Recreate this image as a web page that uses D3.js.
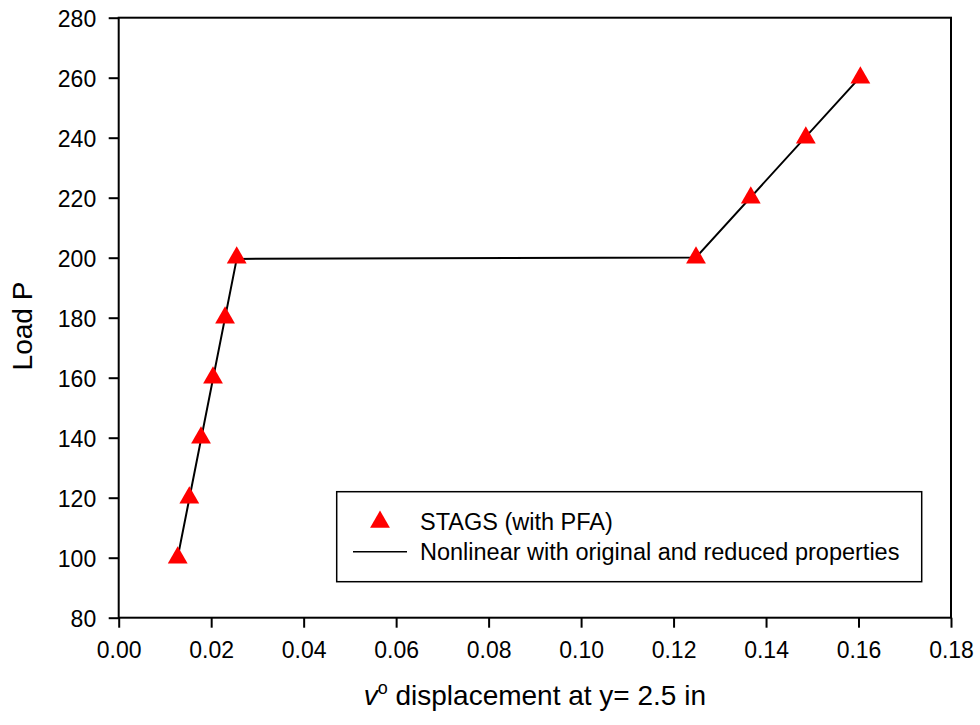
<!DOCTYPE html>
<html>
<head>
<meta charset="utf-8">
<script src="https://cdn.jsdelivr.net/npm/d3@7"></script>
<style>
  html, body { margin: 0; padding: 0; background: #fff; }
  svg { display: block; font-family: "Liberation Sans", Arial, sans-serif; }
</style>
</head>
<body>
<svg id="chart" width="980" height="725"></svg>
<script>
// ---- data ----
const stagsX = [0.01276, 0.01527, 0.0178, 0.0204, 0.0230, 0.02552, 0.12485, 0.1367, 0.1486, 0.1604];
const stagsY = [100, 120, 140, 160, 180, 200, 200, 220, 240, 260];
const nonlinX = [0.01276, 0.02552, 0.12485, 0.1601];
const nonlinY = [100.1, 199.6, 200.1, 259.8];
const xTicks = [0.00, 0.02, 0.04, 0.06, 0.08, 0.10, 0.12, 0.14, 0.16, 0.18];
const yTicks = [80, 100, 120, 140, 160, 180, 200, 220, 240, 260, 280];
const legendLabels = ["STAGS (with PFA)", "Nonlinear with original and reduced properties"];

// ---- layout ----
const svg = d3.select("#chart");
const L = 118.7, R = 951, T = 17.7, B = 617.7;
const x = d3.scaleLinear().domain([0, 0.18]).range([L, R]);
const y = d3.scaleLinear().domain([80, 280]).range([B, T]);

// frame
svg.append("rect").attr("x", L).attr("y", T).attr("width", R - L).attr("height", B - T)
  .attr("fill", "none").attr("stroke", "#000").attr("stroke-width", 2);

// x axis
const xAxis = d3.axisBottom(x).tickValues(xTicks).tickSize(10).tickFormat(d3.format(".2f"));
const gx = svg.append("g").attr("transform", `translate(0,${B})`).call(xAxis);
gx.select(".domain").remove();
gx.selectAll(".tick line").attr("stroke", "#000").attr("stroke-width", 2);
gx.selectAll(".tick text").attr("y", 40).attr("dy", null)
  .attr("font-size", 23).attr("fill", "#000")
  .attr("font-family", "'Liberation Sans', Arial, sans-serif");

// y axis
const yAxis = d3.axisLeft(y).tickValues(yTicks).tickSize(10).tickFormat(d3.format("d"));
const gy = svg.append("g").attr("transform", `translate(${L},0)`).call(yAxis);
gy.select(".domain").remove();
gy.selectAll(".tick line").attr("stroke", "#000").attr("stroke-width", 2);
gy.selectAll(".tick text").attr("x", -22.5).attr("dy", "9")
  .attr("font-size", 23).attr("fill", "#000")
  .attr("font-family", "'Liberation Sans', Arial, sans-serif");

// line series
const pts = nonlinX.map((v, i) => [v, nonlinY[i]]);
svg.append("path").datum(pts)
  .attr("d", d3.line().x(d => x(d[0])).y(d => y(d[1])))
  .attr("fill", "none").attr("stroke", "#000").attr("stroke-width", 2);

// triangles
const tri = d3.symbol().type(d3.symbolTriangle).size(170);
svg.append("g").selectAll("path").data(stagsX.map((v, i) => [v, stagsY[i]]))
  .join("path")
  .attr("d", tri)
  .attr("transform", d => `translate(${x(d[0])},${y(d[1])})`)
  .attr("fill", "#ff0000");

// axis titles
const xt = svg.append("text").attr("x", (L + R) / 2).attr("y", 705)
  .attr("text-anchor", "middle").attr("font-size", 28).attr("fill", "#000");
xt.append("tspan").attr("font-style", "italic").text("v");
xt.append("tspan").attr("font-size", 18).attr("dy", -11).text("o");
xt.append("tspan").attr("dy", 11).text(" displacement at y= 2.5 in");

svg.append("text")
  .attr("transform", "translate(32,326) rotate(-90)")
  .attr("text-anchor", "middle").attr("font-size", 28).attr("fill", "#000")
  .text("Load P");

// legend
const lg = svg.append("g");
lg.append("rect").attr("x", 336.7).attr("y", 491.7).attr("width", 585).attr("height", 90)
  .attr("fill", "#fff").attr("stroke", "#000").attr("stroke-width", 1.5);
lg.append("path").attr("d", tri).attr("transform", "translate(380,522)").attr("fill", "#ff0000");
lg.append("line").attr("x1", 353).attr("x2", 407).attr("y1", 551.7).attr("y2", 551.7)
  .attr("stroke", "#000").attr("stroke-width", 1.5);
lg.selectAll("text.lbl").data(legendLabels).join("text")
  .attr("class", "lbl")
  .attr("x", 420).attr("y", (d, i) => 530 + i * 30)
  .attr("font-size", 23.5).attr("fill", "#000")
  .text(d => d);
</script>
</body>
</html>
